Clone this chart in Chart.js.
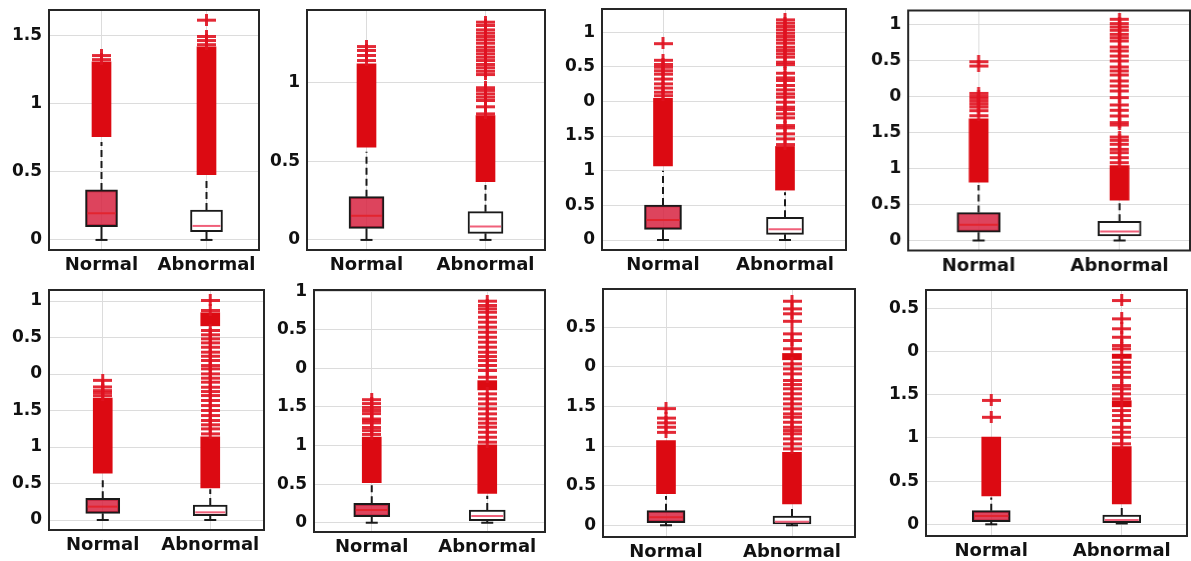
<!DOCTYPE html>
<html>
<head>
<meta charset="utf-8">
<script src="https://cdn.jsdelivr.net/npm/chart.js@4.4.0/dist/chart.umd.min.js"></script>
<style>
  html, body { margin: 0; padding: 0; background: #fff; }
  #wrap { position: relative; width: 1191px; height: 561px; overflow: hidden; }
  .panel { position: absolute; }
</style>
</head>
<body>
<div id="wrap"></div>
<script>
const groups = ['Normal', 'Abnormal'];

// y tick labels of the eight panels (row by row)
const yTickLabels = [
  ['0', '0.5', '1', '1.5'],
  ['0', '0.5', '1'],
  ['0', '0.5', '1', '1.5', '0', '0.5', '1'],
  ['0', '0.5', '1', '1.5', '0', '0.5', '1'],
  ['0', '0.5', '1', '1.5', '0', '0.5', '1'],
  ['0', '0.5', '1', '1.5', '0', '0.5', '1'],
  ['0', '0.5', '1', '1.5', '0', '0.5'],
  ['0', '0.5', '1', '1.5', '0', '0.5']
];
const yMin = [-0.074, -0.064, -0.144, -0.139, -0.137, -0.12, -0.148, -0.135];
const yMax = [1.691, 1.462, 3.333, 3.194, 3.151, 3.014, 2.984, 2.712];

// box stats: [lower whisker, q1, median, q3, upper whisker]
const normalBox = [
  [0, 0.098, 0.196, 0.368, 0.72],
  [0, 0.074, 0.153, 0.275, 0.56],
  [0, 0.154, 0.289, 0.505, 1.00],
  [0, 0.116, 0.218, 0.389, 0.77],
  [0, 0.091, 0.183, 0.297, 0.60],
  [0, 0.078, 0.164, 0.251, 0.49],
  [0, 0.033, 0.100, 0.185, 0.37],
  [0, 0.030, 0.096, 0.158, 0.31]
];
const abnormalBox = [
  [0, 0.061, 0.103, 0.220, 0.45],
  [0, 0.042, 0.085, 0.180, 0.35],
  [0, 0.082, 0.154, 0.327, 0.69],
  [0, 0.062, 0.125, 0.266, 0.53],
  [0, 0.059, 0.105, 0.205, 0.42],
  [0, 0.026, 0.087, 0.164, 0.35],
  [0, 0.017, 0.046, 0.117, 0.25],
  [0.01, 0.019, 0.050, 0.108, 0.22]
];

// ranges where the outlier markers overlap into a solid column
const normalBands = [
  [[0.76, 1.31]],
  [[0.59, 1.12]],
  [[1.07, 2.045]],
  [[0.81, 1.69]],
  [[0.64, 1.67]],
  [[0.52, 1.11]],
  [[0.40, 1.07]],
  [[0.33, 1.01]]
];
const abnormalBands = [
  [[0.48, 1.42]],
  [[0.37, 0.79]],
  [[0.72, 1.35]],
  [[0.56, 1.04]],
  [[0.44, 1.14], [2.66, 2.84]],
  [[0.38, 1.01], [1.72, 1.84]],
  [[0.27, 0.92], [2.09, 2.17]],
  [[0.235, 0.90], [1.36, 1.43], [1.92, 1.97]]
];

// single outliers above the solid columns
const normalCrosses = [
  [1.33, 1.36],
  [1.144, 1.176, 1.208, 1.233],
  [2.09, 2.14, 2.2, 2.26, 2.33, 2.4, 2.45, 2.5, 2.54, 2.6, 2.84],
  [1.74, 1.81, 1.86, 1.9, 1.94, 1.98, 2.01, 2.05, 2.43, 2.49],
  [1.71, 1.75, 1.78, 1.83, 1.92],
  [1.15, 1.2, 1.24, 1.3, 1.33, 1.35, 1.42, 1.46, 1.5, 1.55, 1.6],
  [1.18, 1.245, 1.3, 1.36, 1.48],
  [1.245, 1.44]
];
const abnormalCrosses = [
  [1.44, 1.47, 1.5, 1.62],
  [0.805, 0.85, 0.89, 0.911, 0.932, 0.954, 0.971, 1.055, 1.076, 1.098, 1.119, 1.144, 1.165, 1.187,
   1.208, 1.229, 1.254, 1.276, 1.297, 1.318, 1.339, 1.367, 1.388],
  [1.385, 1.467, 1.539, 1.626, 1.659, 1.77, 1.828, 1.89, 1.924, 1.996, 2.068, 2.116, 2.174, 2.237,
   2.309, 2.347, 2.414, 2.54, 2.573, 2.646, 2.694, 2.742, 2.789, 2.847, 2.896, 2.944, 2.991, 3.04,
   3.088, 3.136, 3.184],
  [1.088, 1.157, 1.227, 1.273, 1.343, 1.398, 1.444, 1.611, 1.644, 1.736, 1.815, 1.889, 1.991, 2.083,
   2.153, 2.222, 2.306, 2.361, 2.417, 2.5, 2.569, 2.639, 2.694, 2.778, 2.824, 2.87, 2.926, 2.972,
   3.019, 3.079],
  [1.187, 1.256, 1.311, 1.37, 1.438, 1.507, 1.575, 1.644, 1.712, 1.767, 1.826, 1.895, 1.95, 2.009,
   2.078, 2.123, 2.192, 2.251, 2.306, 2.374, 2.434, 2.489, 2.544, 2.603, 2.877, 3.014],
  [1.05, 1.114, 1.179, 1.244, 1.296, 1.352, 1.417, 1.482, 1.546, 1.611, 1.676, 1.891, 1.978, 2.043,
   2.107, 2.159, 2.215, 2.28, 2.345, 2.409, 2.474, 2.539, 2.604, 2.668, 2.733, 2.777, 2.82, 2.876],
  [0.972, 1.035, 1.098, 1.162, 1.203, 1.245, 1.308, 1.371, 1.414, 1.477, 1.54, 1.603, 1.667, 1.73,
   1.784, 1.835, 1.919, 1.982, 2.045, 2.235, 2.34, 2.424, 2.583, 2.677, 2.74, 2.836],
  [0.938, 1.014, 1.072, 1.13, 1.207, 1.265, 1.323, 1.458, 1.516, 1.574, 1.612, 1.708, 1.766, 1.824,
   1.882, 2.037, 2.075, 2.171, 2.269, 2.384, 2.596]
];

// plot area of each panel on the page: [left, top, right, bottom]
const plotRects = [
  [49, 10, 259, 250], [307, 10, 545, 250], [602, 9, 846, 250], [908, 10, 1189, 250],
  [49, 290, 264, 530], [314, 290, 545, 532], [603, 289, 855, 537], [926, 290, 1187, 536]
];
const boxWidths = [32, 35, 37, 43, 34, 36, 38, 38];
const PAD_L = 60, PAD_T = 20, PAD_R = 20, AXIS_H = 34;
const FONT = 'DejaVu Sans';

// "+" marker, a bit wider than tall
function crossMarker() {
  const c = document.createElement('canvas');
  c.width = 19; c.height = 12;
  const g = c.getContext('2d');
  g.fillStyle = 'rgba(224, 18, 32, 0.9)';
  g.fillRect(0, 5, 19, 3);
  g.fillRect(8, 0, 3, 12);
  return c;
}
const marker = crossMarker();

const framePlugin = {
  id: 'frame',
  afterDatasetsDraw(chart) {
    const { ctx, chartArea: a } = chart;
    ctx.save();
    ctx.strokeStyle = '#262626';
    ctx.lineWidth = 2;
    ctx.strokeRect(a.left, a.top, a.right - a.left, a.bottom - a.top);
    ctx.restore();
  }
};

// resize and move the panel's box so its plot area lands on plotRects[i]
function placePanel(chart, div, i) {
  const [L, T, R, B] = plotRects[i];
  for (let n = 0; n < 3; n++) {
    const a = chart.chartArea;
    div.style.width = (parseFloat(div.style.width) + (R - L) - (a.right - a.left)) + 'px';
    div.style.height = (parseFloat(div.style.height) + (B - T) - (a.bottom - a.top)) + 'px';
    chart.resize();
  }
  const a = chart.chartArea;
  div.style.left = (L - a.left) + 'px';
  div.style.top = (T - a.top) + 'px';
}

function buildPanel(i) {
  const [L, T, R, B] = plotRects[i];
  const div = document.createElement('div');
  div.className = 'panel';
  div.style.left = (L - PAD_L) + 'px';
  div.style.top = (T - PAD_T) + 'px';
  div.style.width = (R - L + PAD_L + PAD_R) + 'px';
  div.style.height = (B - T + PAD_T + AXIS_H) + 'px';
  const canvas = document.createElement('canvas');
  div.appendChild(canvas);
  document.getElementById('wrap').appendChild(div);

  const boxes = [normalBox[i], abnormalBox[i]];
  const bands = [normalBands[i], abnormalBands[i]];
  const crosses = [normalCrosses[i], abnormalCrosses[i]];
  const datasets = [];

  // whiskers: dashed above the box, solid below
  boxes.forEach((b, k) => {
    datasets.push({
      type: 'line', data: [{ x: groups[k], y: b[3] }, { x: groups[k], y: b[4] }],
      borderColor: '#1a1a1a', borderWidth: 2, borderDash: [7, 4], pointRadius: 0, order: 6
    });
    datasets.push({
      type: 'line', data: [{ x: groups[k], y: b[0] }, { x: groups[k], y: b[1] }],
      borderColor: '#1a1a1a', borderWidth: 2, pointRadius: 0, order: 6
    });
  });
  // lower caps
  datasets.push({
    type: 'line', showLine: false,
    data: boxes.map((b, k) => ({ x: groups[k], y: b[0] })),
    pointStyle: 'line', pointRadius: 6, pointBorderWidth: 2, pointBorderColor: '#1a1a1a', order: 5
  });
  // solid outlier columns
  const nb = Math.max(bands[0].length, bands[1].length);
  for (let j = 0; j < nb; j++) {
    const data = [];
    bands.forEach((list, k) => { if (list[j]) data.push({ x: groups[k], y: list[j] }); });
    datasets.push({
      type: 'bar', data, backgroundColor: '#dc0a12', barThickness: 19, grouped: false, order: 4
    });
  }
  // single outliers
  const pts = [];
  crosses.forEach((list, k) => list.forEach(v => pts.push({ x: groups[k], y: v })));
  datasets.push({
    type: 'line', showLine: false, data: pts, pointStyle: marker, pointRadius: 6, order: 3
  });
  // boxes
  datasets.push({
    type: 'bar', data: boxes.map((b, k) => ({ x: groups[k], y: [b[1], b[3]] })),
    backgroundColor: ['rgba(215, 35, 65, 0.85)', '#ffffff'],
    borderColor: '#1a1a1a', borderWidth: 2, borderSkipped: false,
    barThickness: boxWidths[i], grouped: false, order: 2
  });
  // medians
  datasets.push({
    type: 'line', showLine: false,
    data: boxes.map((b, k) => ({ x: groups[k], y: b[2] })),
    pointStyle: 'line', pointRadius: boxWidths[i] / 2 - 2, pointBorderWidth: 2,
    pointBorderColor: ['#e3242f', '#f0607a'], order: 1
  });

  const chart = new Chart(canvas, {
    type: 'bar',
    data: { labels: groups, datasets },
    plugins: [framePlugin],
    options: {
      responsive: true,
      maintainAspectRatio: false,
      animation: false,
      layout: { padding: { top: PAD_T, right: PAD_R, left: 0, bottom: 0 } },
      plugins: { legend: { display: false }, tooltip: { enabled: false } },
      scales: {
        x: {
          offset: true,
          grid: { offset: false, color: '#dcdcdc', lineWidth: 1, drawTicks: false },
          border: { display: false },
          ticks: {
            color: '#111', padding: 5, maxRotation: 0, autoSkip: false,
            font: { family: FONT, weight: 'bold', size: 18 }
          },
          afterFit: s => { s.height = AXIS_H; }
        },
        y: {
          min: yMin[i],
          max: yMax[i],
          grid: { color: '#dcdcdc', lineWidth: 1, drawTicks: false },
          border: { display: false },
          ticks: {
            color: '#111', padding: 7,
            font: { family: FONT, weight: 'bold', size: 17 },
            callback: (v, idx) => yTickLabels[i][idx]
          },
          afterBuildTicks: s => { s.ticks = yTickLabels[i].map((t, n) => ({ value: n * 0.5 })); },
          afterFit: s => { s.width = PAD_L; }
        }
      }
    }
  });
  placePanel(chart, div, i);
}

for (let i = 0; i < plotRects.length; i++) buildPanel(i);
</script>
</body>
</html>
